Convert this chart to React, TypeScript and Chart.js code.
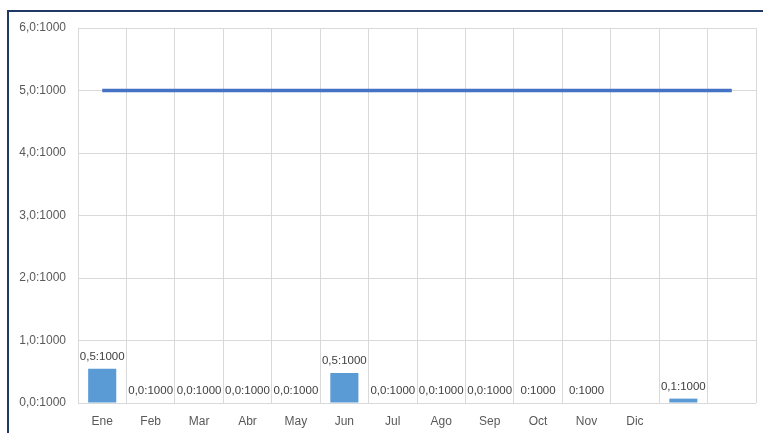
import React, { useEffect, useRef } from "react";
import { Chart, registerables } from "chart.js";

Chart.register(...registerables);

const categories = ["Ene", "Feb", "Mar", "Abr", "May", "Jun", "Jul", "Ago", "Sep", "Oct", "Nov", "Dic", "", ""];
const barValues: (number | null)[] = [0.55, 0, 0, 0, 0, 0.48, 0, 0, 0, 0, 0, null, 0.07, null];
const barLabels = ["0,5:1000", "0,0:1000", "0,0:1000", "0,0:1000", "0,0:1000", "0,5:1000", "0,0:1000", "0,0:1000", "0,0:1000", "0:1000", "0:1000", "", "0,1:1000", ""];
const lineValues = [5, 5, 5, 5, 5, 5, 5, 5, 5, 5, 5, 5, 5, 5];
const yTickLabels: Record<number, string> = {
  0: "0,0:1000", 1: "1,0:1000", 2: "2,0:1000", 3: "3,0:1000", 4: "4,0:1000", 5: "5,0:1000", 6: "6,0:1000",
};

const FONT = "'Liberation Sans', Arial, sans-serif";

const barLabelPlugin = {
  id: "barLabels",
  afterDatasetsDraw(chart: any) {
    const meta = chart.getDatasetMeta(1);
    const ctx = chart.ctx;
    ctx.save();
    ctx.font = `11.5px ${FONT}`;
    ctx.fillStyle = "#404040";
    ctx.textAlign = "center";
    ctx.textBaseline = "bottom";
    meta.data.forEach((el: any, i: number) => {
      const t = barLabels[i];
      if (!t || barValues[i] === null) return;
      ctx.fillText(t, el.x, el.y - 6);
    });
    ctx.restore();
  },
};

export default function App() {
  const ref = useRef<HTMLCanvasElement>(null);
  useEffect(() => {
    if (!ref.current) return;
    const chart = new Chart(ref.current, {
      type: "bar",
      data: {
        labels: categories,
        datasets: [
          {
            type: "line",
            data: lineValues,
            borderColor: "#4472C4",
            borderWidth: 3.5,
            pointRadius: 0,
            fill: false,
            order: 0,
          } as any,
          {
            type: "bar",
            data: barValues,
            backgroundColor: "#5B9BD5",
            barPercentage: 0.58,
            categoryPercentage: 1,
            order: 1,
          },
        ],
      },
      options: {
        animation: false,
        responsive: false,
        maintainAspectRatio: false,
        layout: { padding: { top: 28, right: 7, left: 0, bottom: 0 } },
        plugins: { legend: { display: false }, tooltip: { enabled: false } },
        scales: {
          x: {
            offset: true,
            grid: { color: "#d9d9d9", offset: true, drawTicks: false, lineWidth: 1 },
            border: { display: false },
            ticks: { color: "#595959", font: { family: FONT, size: 12 }, padding: 11, maxRotation: 0, autoSkip: false },
            afterFit: (s: any) => { s.height = 30; },
          },
          y: {
            min: 0,
            max: 6,
            grid: { color: "#d9d9d9", drawTicks: false },
            border: { display: false },
            ticks: {
              stepSize: 1,
              color: "#595959",
              font: { family: FONT, size: 12 },
              padding: 12,
              callback: (v: any) => yTickLabels[v as number] ?? "",
            },
            afterFit: (s: any) => { s.width = 78; },
          },
        },
      },
      plugins: [barLabelPlugin],
    });
    return () => chart.destroy();
  }, []);
  return (
    <div style={{ position: "fixed", left: 0, top: 0, width: 763, height: 433, background: "#fff", overflow: "hidden" }}>
      <div style={{ position: "absolute", left: 7, top: 10, width: 800, height: 500, border: "2px solid #1F3864", boxSizing: "border-box" }} />
      <canvas ref={ref} width={763} height={433} style={{ position: "absolute", left: 0, top: 0, width: 763, height: 433 }} />
    </div>
  );
}
